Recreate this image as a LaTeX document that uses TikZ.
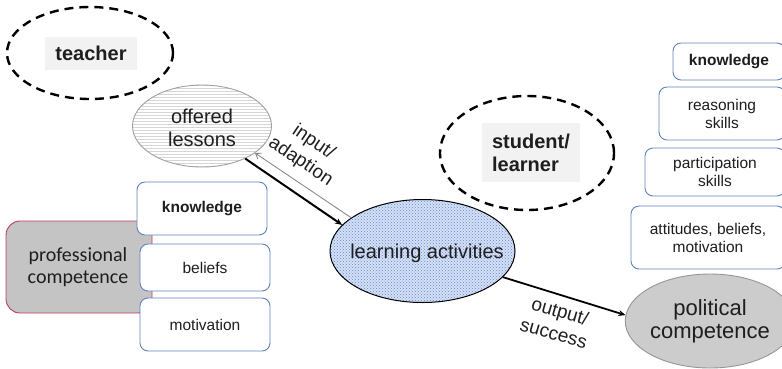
\documentclass[tikz,border=0pt]{standalone}
\usepackage{fontspec}
\setmainfont{Liberation Sans}
\newfontfamily\calib{Carlito}
\usetikzlibrary{shapes.geometric,arrows.meta,patterns}
\definecolor{boxblue}{RGB}{95,130,190}
\definecolor{txt}{RGB}{30,30,30}
\definecolor{profred}{RGB}{190,60,90}
\definecolor{lightgray}{RGB}{242,242,242}
\tikzset{
  dashell/.style={ellipse, draw=black, line width=2.4pt, dash pattern=on 9pt off 6pt, inner sep=0pt},
  labelbox/.style={fill=lightgray, inner sep=0pt, font=\bfseries\fontsize{20}{23}\selectfont, text=txt},
  sbox/.style={rectangle, rounded corners=8pt, draw=boxblue, line width=0.9pt, fill=white, inner sep=0pt, align=center, text=txt, font=\fontsize{15.5}{18}\selectfont},
  kbox/.style={sbox, font=\bfseries\fontsize{15.5}{18}\selectfont},
  bigtext/.style={text=txt, align=center, font=\fontsize{20}{23}\selectfont},
  arrlabel/.style={text=txt, align=center, font=\fontsize{19}{23}\selectfont, inner sep=0pt}
}
\begin{document}
\begin{tikzpicture}[x=1pt,y=-1pt]
\useasboundingbox (0,0) rectangle (782,368);

% teacher
\node[dashell, minimum width=166pt, minimum height=92pt] (teacherell) at (90,53) {};
\node[labelbox, minimum width=92pt, minimum height=33pt] (teacher) at (91,53.5) {teacher};

% student
\node[dashell, minimum width=174pt, minimum height=114pt] (studentell) at (527,153) {};
\node[labelbox, minimum width=98pt, minimum height=59pt, align=left] (student) at (531,152.5) {student/\\learner};

% professional competence and left boxes
\node[rectangle, rounded corners=14pt, draw=profred, line width=0.9pt, fill={rgb,255:red,196;green,196;blue,196}, minimum width=146pt, minimum height=92pt, inner sep=0pt] (profbox) at (79,267) {};
\node[bigtext, font=\calib\fontsize{20}{22}\selectfont] (prof) at (78,267) {professional\\competence};
\node[kbox, minimum width=130pt, minimum height=53pt] (lknow) at (202,208.5) {knowledge};
\node[sbox, minimum width=130pt, minimum height=47pt] (lbel) at (205,267.5) {beliefs};
\node[sbox, minimum width=130pt, minimum height=53pt] (lmot) at (205,324.5) {motivation};

% right boxes
\node[kbox, minimum width=112pt, minimum height=37pt] (rknow) at (729,61.5) {knowledge};
\node[sbox, minimum width=126pt, minimum height=53pt] (rreas) at (722,113.5) {reasoning\\skills};
\node[sbox, minimum width=140pt, minimum height=48pt] (rpart) at (715,172) {participation\\skills};
\node[sbox, minimum width=154pt, minimum height=63pt] (ratt) at (708,237.5) {attitudes, beliefs,\\motivation};

% offered lessons
\node[ellipse, draw={rgb,255:red,160;green,160;blue,160}, line width=0.9pt, preaction={fill=white}, pattern=horizontal lines, pattern color=gray!32, minimum width=139pt, minimum height=82pt, inner sep=0pt] (offered) at (202,126) {};
\node[bigtext] (offeredtxt) at (202,128) {offered\\lessons};

% learning activities
\node[ellipse, draw=black, line width=1pt, preaction={fill={rgb,255:red,212;green,224;blue,245}}, pattern=crosshatch dots, pattern color={rgb,255:red,100;green,135;blue,205}, minimum width=185pt, minimum height=103pt, inner sep=0pt] (learning) at (422.5,251) {};
\node[bigtext] (learningtxt) at (427,253) {learning activities};

% political competence
\node[ellipse, draw={rgb,255:red,150;green,150;blue,150}, line width=0.9pt, fill={rgb,255:red,204;green,204;blue,204}, minimum width=144pt, minimum height=94pt, inner sep=0pt, align=center, text=txt, font=\fontsize{22}{23}\selectfont] (political) at (710,321) {political\\competence};

% arrows
\draw[line width=2pt, -{Stealth[length=7pt,width=6pt]}] (offered.-37) -- (learning.162);
\draw[line width=0.8pt, gray, -{Straight Barb[length=5pt,width=7pt]}] (learning.155) -- (offered.-27);
\draw[line width=1.8pt, -{Stealth[length=7pt,width=6pt]}] (learning.-18) -- (political.176);

% labels
\node[arrlabel, rotate=-34] (inlab) at (307,152) {input/\\adaption};
\node[arrlabel, rotate=-16] (outlab) at (557,322) {output/\\success};
\end{tikzpicture}
\end{document}
